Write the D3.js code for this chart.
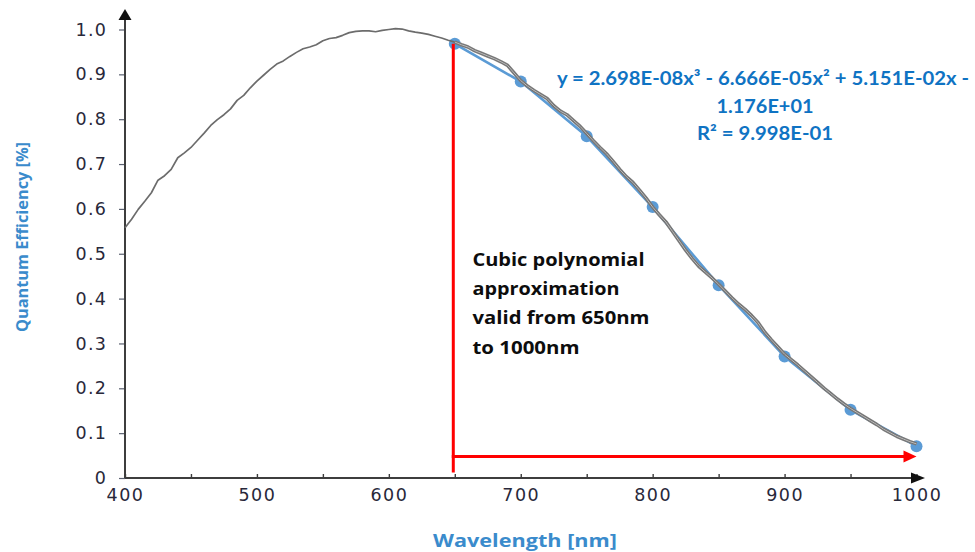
<!DOCTYPE html>
<html>
<head>
<meta charset="utf-8">
<script src="https://cdn.jsdelivr.net/npm/d3@7"></script>
<style>
  body { margin: 0; background: #fff; }
  svg { display: block; }
</style>
</head>
<body>
<svg id="chart" width="975" height="552"></svg>
<script>
// Measured quantum efficiency curve (wavelength in nm, QE as fraction)
const qeWavelength = [
  400, 405, 410, 415, 420, 425, 430, 435, 440, 445, 450, 455, 460, 465, 470, 475, 480, 485, 490, 495,
  500, 505, 510, 515, 520, 525, 530, 535, 540, 545, 550, 555, 560, 565, 570, 575, 580, 585, 590, 595,
  600, 605, 610, 615, 620, 625, 630, 635, 640, 645, 650, 655, 660, 665, 670, 675, 680, 685, 690, 695,
  700, 705, 710, 715, 720, 725, 730, 735, 740, 745, 750, 755, 760, 765, 770, 775, 780, 785, 790, 795,
  800, 805, 810, 815, 820, 825, 830, 835, 840, 845, 850, 855, 860, 865, 870, 875, 880, 885, 890, 895,
  900, 905, 910, 915, 920, 925, 930, 935, 940, 945, 950, 955, 960, 965, 970, 975, 980, 985, 990, 995,
  1000
];
const qeValue = [
  0.558, 0.577, 0.599, 0.617, 0.636, 0.664, 0.674, 0.688, 0.714, 0.725, 0.737, 0.753, 0.769, 0.786, 0.799, 0.810, 0.823, 0.842, 0.853, 0.870,
  0.885, 0.898, 0.911, 0.923, 0.930, 0.940, 0.949, 0.957, 0.961, 0.966, 0.975, 0.980, 0.982, 0.987, 0.993, 0.996, 0.997, 0.997, 0.995, 0.998,
  1.000, 1.002, 1.001, 0.997, 0.994, 0.992, 0.989, 0.985, 0.981, 0.976, 0.972, 0.966, 0.961, 0.953, 0.947, 0.941, 0.935, 0.928, 0.920, 0.903,
  0.886, 0.874, 0.864, 0.855, 0.846, 0.830, 0.818, 0.810, 0.797, 0.784, 0.768, 0.752, 0.737, 0.723, 0.706, 0.688, 0.672, 0.659, 0.642, 0.624,
  0.604, 0.587, 0.571, 0.550, 0.529, 0.508, 0.489, 0.472, 0.459, 0.446, 0.432, 0.417, 0.402, 0.388, 0.376, 0.362, 0.346, 0.325, 0.308, 0.292,
  0.276, 0.264, 0.252, 0.239, 0.226, 0.213, 0.200, 0.188, 0.176, 0.165, 0.155, 0.146, 0.137, 0.128, 0.119, 0.109, 0.101, 0.093, 0.087, 0.081,
  0.076
];

// Sample points used for the cubic fit
const sampleWavelength = [650, 700, 750, 800, 850, 900, 950, 1000];
const sampleValue = [0.968, 0.884, 0.762, 0.604, 0.430, 0.271, 0.152, 0.071];

// Axis ticks
const xTickValues = [400, 450, 500, 550, 600, 650, 700, 750, 800, 850, 900, 950, 1000];
const xTickLabels = ["400", "", "500", "", "600", "", "700", "", "800", "", "900", "", "1000"];
const yTickValues = [0, 0.1, 0.2, 0.3, 0.4, 0.5, 0.6, 0.7, 0.8, 0.9, 1.0];
const yTickLabels = ["0", "0.1", "0.2", "0.3", "0.4", "0.5", "0.6", "0.7", "0.8", "0.9", "1.0"];

// Text
const xTitle = "Wavelength [nm]";
const yTitle = "Quantum Efficiency [%]";
const fitEquation = [
  "y = 2.698E-08x³ - 6.666E-05x² + 5.151E-02x -",
  "1.176E+01",
  "R² = 9.998E-01"
];
const noteLines = ["Cubic polynomial", "approximation", "valid from 650nm", "to 1000nm"];

// Validity range of the approximation
const validRange = [650, 1000];
const rangeArrowLevel = 0.048;

const svg = d3.select("#chart");
svg.append("rect").attr("width", 975).attr("height", 552).attr("fill", "#fff");

const x = d3.scaleLinear().domain([400, 1000]).range([125, 916.5]);
const y = d3.scaleLinear().domain([0, 1]).range([478, 29.5]);

const axisColor = "#3d3d3d";
const tickTextColor = "#28283a";
const titleBlue = "#3a8bcc";
const fitBlue = "#0f73c3";
const pointBlue = "#5b9bd5";

// X axis (ticks point upward)
const gx = svg.append("g")
  .attr("transform", `translate(0,${y(0)})`)
  .call(d3.axisBottom(x)
    .tickValues(xTickValues)
    .tickSizeInner(-4)
    .tickSizeOuter(0)
    .tickPadding(11)
    .tickFormat((d, i) => xTickLabels[i]));
gx.select(".domain").remove();
gx.selectAll(".tick line").attr("stroke", axisColor).attr("stroke-width", 1.4);
gx.selectAll(".tick text")
  .attr("font-family", "DejaVu Sans")
  .attr("font-size", 17.5)
  .attr("letter-spacing", 1.5)
  .attr("fill", tickTextColor);

// Y axis
const gy = svg.append("g")
  .attr("transform", `translate(${x(400)},0)`)
  .call(d3.axisLeft(y)
    .tickValues(yTickValues)
    .tickSize(6)
    .tickPadding(12)
    .tickFormat((d, i) => yTickLabels[i]));
gy.select(".domain").remove();
gy.selectAll(".tick line").attr("stroke", "#5a6070").attr("stroke-width", 1.2);
gy.selectAll(".tick text")
  .attr("font-family", "DejaVu Sans")
  .attr("font-size", 17.5)
  .attr("letter-spacing", 1.2)
  .attr("fill", tickTextColor);

// Axis lines with arrowheads
const x0 = x(400), y0 = y(0), xEnd = x(1000) + 8.5, yTop = 9;
svg.append("line").attr("x1", x0).attr("y1", y0).attr("x2", x0).attr("y2", yTop + 9)
  .attr("stroke", axisColor).attr("stroke-width", 2);
svg.append("path").attr("d", `M${x0},${yTop} L${x0 - 6.5},${yTop + 11} L${x0 + 6.5},${yTop + 11} Z`)
  .attr("fill", "#111");
svg.append("line").attr("x1", x0).attr("y1", y0).attr("x2", xEnd - 12).attr("y2", y0)
  .attr("stroke", axisColor).attr("stroke-width", 2);
svg.append("path").attr("d", `M${xEnd},${y0} L${xEnd - 14},${y0 - 5.5} L${xEnd - 14},${y0 + 5.5} Z`)
  .attr("fill", "#111");

// Sample points and connecting line
const samples = sampleWavelength.map((w, i) => ({ w, v: sampleValue[i] }));
svg.append("path")
  .datum(samples)
  .attr("fill", "none")
  .attr("stroke", pointBlue)
  .attr("stroke-width", 2.6)
  .attr("d", d3.line().x(d => x(d.w)).y(d => y(d.v)));
svg.selectAll("circle.sample")
  .data(samples)
  .join("circle")
  .attr("class", "sample")
  .attr("cx", d => x(d.w))
  .attr("cy", d => y(d.v))
  .attr("r", 6)
  .attr("fill", pointBlue);

// Measured QE curve
const qe = qeWavelength.map((w, i) => ({ w, v: qeValue[i] }));
const qeLine = d3.line().x(d => x(d.w)).y(d => y(d.v));
const qeFitPart = qe.filter(d => d.w >= validRange[0]);
svg.append("path").datum(qeFitPart).attr("fill", "none")
  .attr("stroke", "#7c7c7c").attr("stroke-width", 3.6).attr("stroke-linejoin", "round").attr("d", qeLine);
svg.append("path").datum(qe).attr("fill", "none")
  .attr("stroke", "#6c6c6c").attr("stroke-width", 1.7).attr("stroke-linejoin", "round").attr("d", qeLine);
svg.append("path").datum(qeFitPart).attr("fill", "none")
  .attr("stroke", "#bdbdbd").attr("stroke-width", 1).attr("stroke-linejoin", "round").attr("d", qeLine);

// Validity range marker
const red = "#ff0000";
const rx = x(validRange[0]) - 1.5;
svg.append("line")
  .attr("x1", rx).attr("x2", rx)
  .attr("y1", y(sampleValue[0])).attr("y2", y(0.012))
  .attr("stroke", red).attr("stroke-width", 3);
const ay = y(rangeArrowLevel);
const tipX = x(validRange[1]);
svg.append("line")
  .attr("x1", rx - 1.5).attr("x2", tipX - 12).attr("y1", ay).attr("y2", ay)
  .attr("stroke", red).attr("stroke-width", 3);
svg.append("path")
  .attr("d", `M${tipX},${ay} L${tipX - 13},${ay - 6} L${tipX - 13},${ay + 6} Z`)
  .attr("fill", red);

// Annotation text
const note = svg.append("g")
  .attr("font-family", "Open Sans")
  .attr("font-weight", 700)
  .attr("font-size", 18)
  .attr("fill", "#0d0d0d");
const noteWidths = [172, 147, 177, 107];
note.selectAll("text")
  .data(noteLines)
  .join("text")
  .attr("x", 472.5)
  .attr("y", (d, i) => 265.5 + i * 29.4)
  .attr("textLength", (d, i) => noteWidths[i])
  .attr("lengthAdjust", "spacingAndGlyphs")
  .text(d => d);

// Fit equation
const eq = svg.append("g")
  .attr("font-family", "Lato")
  .attr("font-weight", 700)
  .attr("font-size", 19)
  .attr("fill", fitBlue);
const eqX = [557, 716.5, 697];
const eqW = [412, 97, 136];
const eqY = [85, 112.8, 140];
eq.selectAll("text")
  .data(fitEquation)
  .join("text")
  .attr("x", (d, i) => eqX[i])
  .attr("y", (d, i) => eqY[i])
  .attr("textLength", (d, i) => eqW[i])
  .attr("lengthAdjust", "spacingAndGlyphs")
  .text(d => d);

// Axis titles
svg.append("text")
  .attr("x", 433)
  .attr("y", 546.5)
  .attr("font-family", "Open Sans")
  .attr("font-weight", 700)
  .attr("font-size", 18)
  .attr("fill", titleBlue)
  .attr("textLength", 184)
  .attr("lengthAdjust", "spacingAndGlyphs")
  .text(xTitle);

svg.append("text")
  .attr("transform", "translate(28,237) rotate(-90)")
  .attr("text-anchor", "middle")
  .attr("font-family", "Open Sans")
  .attr("font-weight", 700)
  .attr("font-size", 16)
  .attr("fill", titleBlue)
  .attr("textLength", 190)
  .attr("lengthAdjust", "spacingAndGlyphs")
  .text(yTitle);
</script>
</body>
</html>
